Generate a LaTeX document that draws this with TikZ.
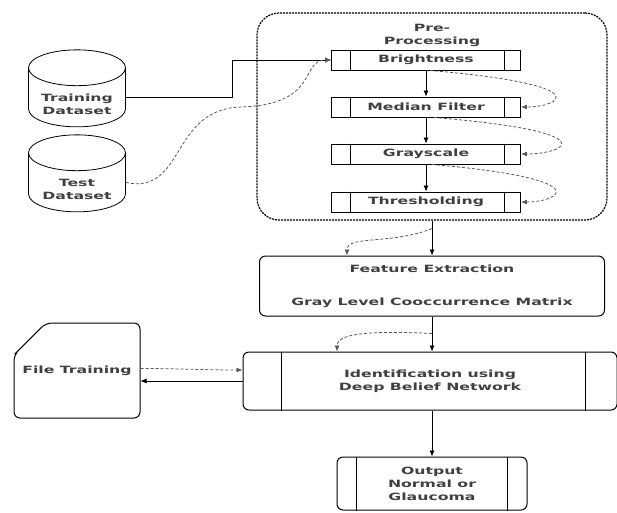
\documentclass[tikz,border=0pt]{standalone}
\usepackage{fontspec}
\newfontfamily\diagfont{DejaVu Sans}[FakeStretch=1.57]
\usetikzlibrary{shapes.geometric,shapes.misc,arrows.meta,positioning}

\tikzset{
  lbl/.style={font=\diagfont\bfseries\fontsize{10}{13}\selectfont, text=black!75, align=center},
  stepbox/.style={draw, lbl, line width=0.9pt, minimum width=189pt, minimum height=20pt, inner sep=0pt},
  procbox/.style={draw, lbl, line width=1pt, rounded corners=6pt, inner sep=0pt},
  dataset/.style={draw, lbl, line width=0.8pt, cylinder, shape border rotate=90, aspect=0.5,
    minimum width=97pt, minimum height=77pt, inner sep=0pt},
  flow/.style={-{Latex[length=6pt,width=5pt]}, line width=0.8pt},
  back/.style={-{Latex[length=6pt,width=5pt]}, dash pattern=on 3pt off 2pt, black!65, line width=0.8pt},
}

\begin{document}
\begin{tikzpicture}[x=1pt, y=-1pt]
  \useasboundingbox (0,0) rectangle (617,512);

  % pre-processing frame
  \node[draw, dash pattern=on 2pt off 1pt, line width=1.2pt, rounded corners=22pt,
    minimum width=350pt, minimum height=207pt] (pre) at (432,116.5) {};
  \node[lbl, below=8pt of pre.north] (pretitle) {Pre-\\Processing};

  \node[stepbox] (bright) at (426,60) {Brightness};
  \node[stepbox] (median) at (426,107) {Median Filter};
  \node[stepbox] (gray) at (426,154) {Grayscale};
  \node[stepbox] (thresh) at (426,202) {Thresholding};
  \foreach \n in {bright,median,gray,thresh} {
    \draw[line width=0.9pt] ([xshift=19pt]\n.north west) -- ([xshift=19pt]\n.south west);
    \draw[line width=0.9pt] ([xshift=-17pt]\n.north east) -- ([xshift=-17pt]\n.south east);
  }

  % datasets, text sits below the top cap
  \node[dataset] (train) at (77,97.5) {\phantom{Training}\\\phantom{Dataset}};
  \node[lbl] (traintext) at ([yshift=-7pt]train.center) {Training\\Dataset};
  \node[dataset] (test) at (77,182.5) {\phantom{Training}\\\phantom{Dataset}};
  \node[lbl] (testtext) at ([yshift=-7pt]test.center) {Test\\Dataset};

  % feature and identification
  \node[procbox, minimum width=345pt, minimum height=60pt] (feat) at (432,286)
    {Feature Extraction\\[20pt]Gray Level Cooccurrence Matrix};
  \node[procbox, minimum width=374pt, minimum height=58pt] (ident) at (430,381)
    {Identification using\\Deep Belief Network};
  \draw[line width=1pt] ([xshift=39pt]ident.north west) -- ([xshift=39pt]ident.south west);
  \draw[line width=1pt] ([xshift=-32pt]ident.north east) -- ([xshift=-32pt]ident.south east);

  \node[procbox, minimum width=190pt, minimum height=53pt] (out) at (432,483.5)
    {Output\\Normal or\\Glaucoma};
  \draw[line width=1pt] ([xshift=20pt]out.north west) -- ([xshift=20pt]out.south west);
  \draw[line width=1pt] ([xshift=-20pt]out.north east) -- ([xshift=-20pt]out.south east);

  \node[draw, lbl, line width=1pt, chamfered rectangle, chamfered rectangle corners=north west,
    chamfered rectangle xsep=40pt, chamfered rectangle ysep=27pt, rounded corners=6pt,
    minimum width=126pt, minimum height=95pt, inner sep=0pt] (file) at (77,370.5) {File Training};

  % connectors
  \draw[flow] (train.east) -- ++(106,0) |- (bright.west);
  \draw[back] (test.east) .. controls (185,195) and (170,110) .. (240,107)
    .. controls (320,105) and (300,60) .. (bright.west);
  \draw[flow] (bright) -- (median);
  \draw[flow] (median) -- (gray);
  \draw[flow] (gray) -- (thresh);
  \draw[back] ([xshift=4pt]bright.south) .. controls (600,85) and (560,107) .. (median.east);
  \draw[back] ([xshift=8pt]median.south) .. controls (610,132) and (565,154) .. (gray.east);
  \draw[back] ([xshift=6pt]gray.south) .. controls (600,179) and (560,202) .. (thresh.east);
  \draw[flow] (pre.south) -- (pre.south |- feat.north);
  \draw[back] ([yshift=-8pt]pre.south) .. controls (390,245) and (347,235) .. ([xshift=-85pt]feat.north);
  \draw[flow] (feat.south) -- (feat.south |- ident.north);
  \draw[back] ([yshift=-17pt]feat.south) .. controls (360,330) and (337,335) .. ([xshift=-93pt]ident.north);
  \draw[flow] (ident.south -| out.north) -- (out.north);
  \draw[back] ([yshift=2pt]file.east) to[out=0,in=180] ([yshift=11pt]ident.west);
  \draw[flow] (ident.west) -- (ident.west -| file.east);
\end{tikzpicture}
\end{document}
